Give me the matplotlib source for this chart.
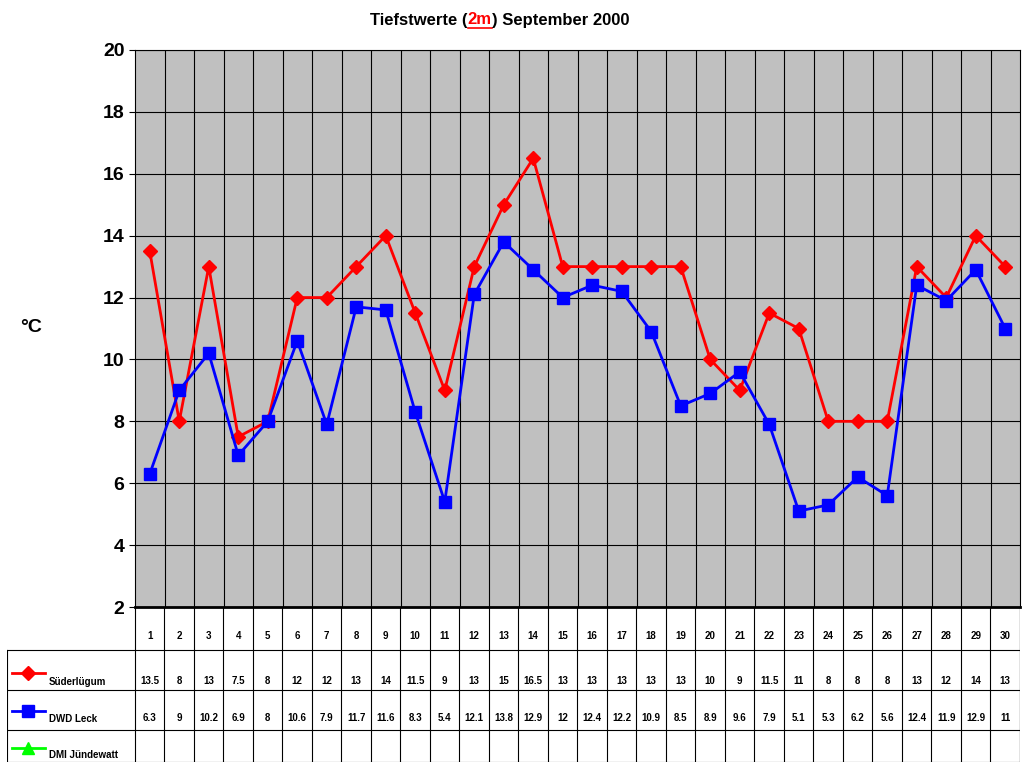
import matplotlib
matplotlib.use("Agg")
import matplotlib.pyplot as plt
import numpy as np

days = list(range(1, 31))
sued = [13.5,8,13,7.5,8,12,12,13,14,11.5,9,13,15,16.5,13,13,13,13,13,10,9,11.5,11,8,8,8,13,12,14,13]
dwd = [6.3,9,10.2,6.9,8,10.6,7.9,11.7,11.6,8.3,5.4,12.1,13.8,12.9,12,12.4,12.2,10.9,8.5,8.9,9.6,7.9,5.1,5.3,6.2,5.6,12.4,11.9,12.9,11]
names = ["Süderlügum", "DWD Leck", "DMI Jündewatt"]
yticks = list(range(2, 21, 2))

plt.rcParams['font.family'] = ['Liberation Sans', 'DejaVu Sans']
fig = plt.figure(figsize=(10.24, 7.68), dpi=100)
W, H = 1024, 768
ax = fig.add_axes([135/W, 1-607/H, 885/W, 557/H])
ax.set_facecolor('#C0C0C0')
ax.set_xlim(0.5, 30.5)
ax.set_ylim(2, 20)
ax.set_yticks(yticks)
ax.set_yticklabels([str(t) for t in yticks], fontsize=14, fontweight='bold')
ax.set_xticks([])
for t in yticks:
    ax.axhline(t, color='black', lw=0.8)
for b in np.arange(1.5, 30.5, 1):
    ax.axvline(b, color='black', lw=0.8)
ax.plot(days, sued, color='red', lw=2, marker='D', ms=7)
ax.plot(days, dwd, color='blue', lw=2, marker='s', ms=9)
for s in ax.spines.values():
    s.set_color('black')
ax.spines['bottom'].set_linewidth(2)
ax.tick_params(axis='y', length=4)
fig.text(20/W, 1-328/H, "°C", fontsize=14, fontweight='bold', va='center')

# title
y_t = 1-20/H
t1 = fig.text(0.5, y_t, "Tiefstwerte (", fontsize=12, fontweight='bold', ha='right', va='center')
fig.canvas.draw()
r = fig.canvas.get_renderer()
t1.set_x(370/W)
t1.set_ha('left')
fig.canvas.draw()
bb = t1.get_window_extent(r)
t2 = fig.text(bb.x1/W, y_t, "2m", fontsize=12, fontweight='bold', color='red', va='center')
fig.canvas.draw()
bb2 = t2.get_window_extent(r)
fig.lines.append(plt.Line2D([bb2.x0/W, bb2.x1/W], [bb2.y0/H-0.001, bb2.y0/H-0.001], color='red', lw=1.2, transform=fig.transFigure))
fig.text(bb2.x1/W, y_t, ") September 2000", fontsize=12, fontweight='bold', va='center')

# table
tx = fig.add_axes([7/W, 1-762/H, 1013/W, 155/H])
tx.set_xlim(0.5 - 128/29.5, 30.5)
tx.set_ylim(762, 607)
tx.axis('off')
xl = 0.5 - 128/29.5
for yy in [650, 690, 730, 762]:
    tx.plot([xl, 30.5], [yy, yy], color='black', lw=0.8)
for b in np.arange(0.5, 31, 1):
    tx.plot([b, b], [607, 762], color='black', lw=0.8)
tx.plot([xl, xl], [650, 762], color='black', lw=0.8)
tx.plot([30.5, 30.5], [607, 762], color='black', lw=0.8)
for d in days:
    tx.text(d, 636, str(d), ha='center', va='center', fontsize=7, fontweight='bold')
def fmt(v):
    return str(int(v)) if v == int(v) else str(v)
for d, a, b in zip(days, sued, dwd):
    tx.text(d, 681, fmt(a), ha='center', va='center', fontsize=7, fontweight='bold')
    tx.text(d, 718, fmt(b), ha='center', va='center', fontsize=7, fontweight='bold')
xs = xl + np.array([5, 38]) / 29.5
xm = xs.mean()
for yy, ty, c, m, n in [(673, 682, 'red', 'D', names[0]), (711, 719, 'blue', 's', names[1]), (748, 755, '#00FF00', '^', names[2])]:
    tx.plot(xs, [yy, yy], color=c, lw=2)
    tx.plot([xm], [yy], color=c, marker=m, ms=8 if m != 'D' else 7)
    tx.text(xl + 42/29.5, ty, n, fontsize=7, fontweight='bold', va='center')

fig.savefig("out.png", dpi=100)
